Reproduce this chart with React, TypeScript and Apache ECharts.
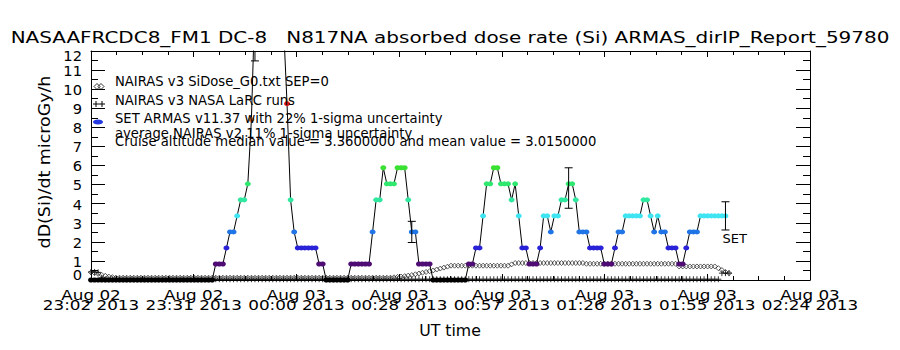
import React, { useEffect, useRef } from "react";
import * as echarts from "echarts";

// ---------- texts ----------
const TITLE = "NASAAFRCDC8_FM1 DC-8   N817NA absorbed dose rate (Si) ARMAS_dirIP_Report_59780";
const Y_TITLE = "dD(Si)/dt microGy/h";
const X_TITLE = "UT time";
const legendLabels = [
  "NAIRAS v3 SiDose_G0.txt SEP=0",
  "NAIRAS v3 NASA LaRC runs",
  "SET ARMAS v11.37 with 22% 1-sigma uncertainty",
];
const noteLines = [
  "average NAIRAS v2 11% 1-sigma uncertainty",
  "Cruise altitude median value = 3.3600000 and mean value = 3.0150000",
];

// ---------- axes ----------
// x axis: seconds since 2013-08-02 23:02:30 UT
const X_MAX = 12103;
const X_INTERVAL = 1729;
const xTickDates = ["Aug 02", "Aug 02", "Aug 03", "Aug 03", "Aug 03", "Aug 03", "Aug 03", "Aug 03"];
const xTickTimes = ["23:02 2013", "23:31 2013", "00:00 2013", "00:28 2013", "00:57 2013", "01:26 2013", "01:55 2013", "02:24 2013"];
const Y_MIN = 0;
const Y_MAX = 12;
const Y_INTERVAL = 1;
const yTickLabels = ["0", "1", "2", "3", "4", "5", "6", "7", "8", "9", "10", "11", "12"];

// ---------- data (one sample per minute from 23:02:30) ----------
const CADENCE_SEC = 60;
const setValues = [
  0, 0, 0, 0, 0, 0, 0, 0, 0, 0, 0, 0, 0, 0, 0, 0, 0, 0, 0, 0,
  0, 0, 0, 0, 0, 0, 0, 0, 0, 0, 0, 0, 0, 0, 0,
  0.84, 0.84, 0.84, 1.68, 2.52, 2.52, 3.36, 4.2, 4.2, 5.04, 8.4,
  14.7, 15.1, 15.5, 15.1, 14.7, 14.3, 14.3, 13.9, 13.4,
  9.24, 4.2, 2.52, 1.68, 1.68, 1.68, 1.68, 1.68, 1.68, 0.84, 0.84,
  0, 0, 0, 0, 0, 0, 0,
  0.84, 0.84, 0.84, 0.84, 0.84, 0.84,
  2.52, 4.2, 4.2, 5.88, 5.04, 5.04, 5.04, 5.88, 5.88, 5.88, 4.2, 2.52, 2.52, 0.84, 0.84, 0.84, 0.84,
  0, 0, 0, 0, 0, 0, 0, 0, 0, 0,
  0.84, 0.84, 1.68, 1.68, 3.36, 5.04, 5.04, 5.88, 5.88, 5.04, 5.04, 5.04, 4.2, 5.04, 3.36, 1.68, 1.68, 0.84, 0.84, 0.84, 1.68,
  3.36, 3.36, 2.52, 3.36, 3.36, 4.2, 4.2, 5.04, 5.04, 4.2, 2.52, 2.52, 2.52, 1.68, 1.68, 1.68, 1.68, 0.84, 0.84, 0.84, 1.68,
  2.52, 2.52, 3.36, 3.36, 3.36, 3.36, 3.36, 4.2, 4.2, 3.36, 2.52, 3.36, 2.52, 2.52, 1.68, 1.68, 1.68, 0.84, 0.84, 1.68, 2.52, 2.52, 2.52,
  3.36, 3.36, 3.36, 3.36, 3.36, 3.36, 3.36, 3.36,
];
const nairasG0 = [
  0.4, 0.36, 0.32, 0.27, 0.22, 0.18, 0.15,
  0.12, 0.12, 0.12, 0.12, 0.12, 0.12, 0.12, 0.12, 0.12, 0.12, 0.12, 0.12, 0.12, 0.12, 0.12, 0.12, 0.12, 0.12, 0.12, 0.12,
  0.12, 0.12, 0.12, 0.12, 0.12, 0.12, 0.12, 0.12, 0.12, 0.12, 0.12, 0.12, 0.12, 0.12, 0.12, 0.12, 0.12, 0.12, 0.12, 0.12,
  0.12, 0.12, 0.12, 0.12, 0.12, 0.12, 0.12, 0.12, 0.12, 0.12, 0.12, 0.12, 0.12, 0.12, 0.12, 0.12, 0.12, 0.12, 0.12, 0.12,
  0.12, 0.12, 0.12, 0.12, 0.12, 0.12, 0.12, 0.12, 0.12, 0.12, 0.12, 0.12, 0.12, 0.12, 0.12, 0.12, 0.12, 0.12,
  0.14, 0.16, 0.18, 0.2, 0.23, 0.26, 0.3, 0.34, 0.38, 0.42, 0.46, 0.5, 0.55, 0.6, 0.65, 0.7,
  0.75, 0.75, 0.75, 0.75, 0.75, 0.75, 0.75, 0.75, 0.75, 0.75, 0.75, 0.75, 0.75, 0.75, 0.75, 0.75, 0.75,
  0.82,
  0.89, 0.89, 0.89, 0.89, 0.89, 0.89, 0.89, 0.89, 0.89, 0.89, 0.89, 0.89, 0.89, 0.89, 0.89, 0.89, 0.89, 0.89, 0.89, 0.89,
  0.85, 0.85, 0.85, 0.85, 0.85, 0.85, 0.85, 0.85, 0.85, 0.85, 0.85, 0.85, 0.85, 0.85, 0.85, 0.85, 0.85, 0.85, 0.85, 0.85,
  0.85, 0.85, 0.85, 0.85, 0.85, 0.85,
  0.71, 0.71, 0.71, 0.71, 0.71, 0.71, 0.71, 0.71, 0.71, 0.71, 0.71,
  0.62, 0.52, 0.42, 0.36,
];
const nairasLarc = [
  0.42, 0.42, 0.4, 0.12,
  0.04, 0.04, 0.04, 0.04, 0.04, 0.04, 0.04, 0.04, 0.04, 0.04, 0.04, 0.04, 0.04, 0.04, 0.04, 0.04, 0.04, 0.04, 0.04, 0.04,
  0.04, 0.04, 0.04, 0.04, 0.04, 0.04, 0.04, 0.04, 0.04, 0.04, 0.04, 0.04, 0.04, 0.04, 0.04, 0.04, 0.04, 0.04, 0.04, 0.04,
  0.04, 0.04, 0.04, 0.04, 0.04, 0.04, 0.04, 0.04, 0.04, 0.04, 0.04, 0.04, 0.04, 0.04, 0.04, 0.04, 0.04, 0.04, 0.04, 0.04,
  0.04, 0.04, 0.04, 0.04, 0.04, 0.04, 0.04, 0.04, 0.04, 0.04, 0.04, 0.04, 0.04, 0.04, 0.04, 0.04, 0.04, 0.04, 0.04, 0.04,
  0.04, 0.04, 0.04, 0.04, 0.04, 0.04, 0.04, 0.04, 0.04, 0.04, 0.04, 0.04, 0.04, 0.04, 0.04, 0.04, 0.04, 0.04, 0.04, 0.04,
  0.04, 0.04, 0.04, 0.04, 0.04, 0.04, 0.04, 0.04, 0.04, 0.04, 0.04, 0.04, 0.04, 0.04, 0.04, 0.04, 0.04, 0.04, 0.04, 0.04,
  0.04, 0.04, 0.04, 0.04, 0.04, 0.04, 0.04, 0.04, 0.04, 0.04, 0.04, 0.04, 0.04, 0.04, 0.04, 0.04, 0.04, 0.04, 0.04, 0.04,
  0.04, 0.04, 0.04, 0.04, 0.04, 0.04, 0.04, 0.04, 0.04, 0.04, 0.04, 0.04, 0.04, 0.04, 0.04, 0.04, 0.04, 0.04, 0.04, 0.04,
  0.04, 0.04, 0.04, 0.04, 0.04, 0.04, 0.04, 0.04, 0.04, 0.04, 0.04, 0.04, 0.04,
  0.36, 0.36, 0.36,
];
// SET error bars (minute index, centre value), ±22 %
const errMinutes = [46, 90, 134, 178];
const errCenters = [14.72, 2.52, 4.82, 3.36];
const errLabels = ["", "", "", "SET"];
const ERR_FRAC = 0.22;

// colour table for SET dose levels (steps of 0.84)
const LEVEL_STEP = 0.84;
const levelColors = [
  "#000000", "#4e0c74", "#2a22d8", "#1f74e6", "#3fe4f2", "#30e8a0",
  "#30e870", "#3ae032", "#a8e030", "#f0e020", "#d07030", "#e01818",
];

const FONT = "DejaVu Sans";

export default function App() {
  const ref = useRef<HTMLDivElement>(null);
  useEffect(() => {
    document.body.style.margin = "0";
    const chart = echarts.init(ref.current as HTMLDivElement, null, { renderer: "svg" });

    const setData = setValues.map((v, i) => ({
      value: [i * CADENCE_SEC, v],
      itemStyle: { color: levelColors[Math.min(levelColors.length - 1, Math.round(v / LEVEL_STEP))] },
    }));
    const g0Data = nairasG0.map((v, i) => [i * CADENCE_SEC, v]);
    const larcData = nairasLarc.map((v, i) => [i * CADENCE_SEC, v]);
    const errData = errMinutes.map((m, i) => [m * CADENCE_SEC, errCenters[i] * (1 - ERR_FRAC), errCenters[i] * (1 + ERR_FRAC)]);

    const axisLine = { show: true, onZero: false, lineStyle: { color: "#000", width: 1 } };
    const xCommon = {
      type: "value" as const,
      min: 0,
      max: X_MAX,
      interval: X_INTERVAL,
      axisLine,
      axisTick: { show: true, inside: true, length: 6, lineStyle: { color: "#000" } },
      minorTick: { show: true, splitNumber: 4, length: 4, lineStyle: { color: "#000" } },
      splitLine: { show: false },
      axisLabel: { show: false },
    };
    const yCommon = {
      type: "value" as const,
      min: Y_MIN,
      max: Y_MAX,
      interval: Y_INTERVAL,
      axisLine,
      axisTick: { show: true, inside: true, length: 14, lineStyle: { color: "#000" } },
      minorTick: { show: true, splitNumber: 2, length: 7, lineStyle: { color: "#000" } },
      splitLine: { show: false },
      axisLabel: { show: false },
    };

    chart.setOption({
      animation: false,
      textStyle: { fontFamily: FONT },
      grid: { left: 91, right: 90, top: 51, bottom: 70, containLabel: false, outerBoundsMode: "none" },
      xAxis: [
        { ...xCommon, position: "bottom" },
        { ...xCommon, position: "top" },
      ],
      yAxis: [
        { ...yCommon, position: "left" },
        { ...yCommon, position: "right" },
      ],
      series: [
        {
          type: "scatter",
          name: legendLabels[0],
          data: g0Data,
          symbol: "diamond",
          symbolSize: [5, 5],
          itemStyle: { color: "rgba(0,0,0,0)", borderColor: "#000", borderWidth: 0.8 },
          emphasis: { disabled: true },
          z: 2,
        },
        {
          type: "scatter",
          name: legendLabels[1],
          data: larcData,
          symbol: "path://M0,4L8,4M4,0L4,8",
          symbolSize: [6, 6],
          itemStyle: { color: "none", borderColor: "#000", borderWidth: 1 },
          emphasis: { disabled: true },
          z: 2,
        },
        {
          type: "line",
          name: legendLabels[2],
          data: setData,
          symbol: "circle",
          symbolSize: [6, 5],
          showSymbol: true,
          showAllSymbol: true,
          lineStyle: { color: "#000", width: 1 },
          emphasis: { disabled: true },
          clip: true,
          z: 3,
        },
        {
          type: "custom",
          data: errData,
          clip: true,
          z: 4,
          renderItem: (params: any, api: any) => {
            const t = api.value(0);
            const lo = api.coord([t, api.value(1)]);
            const hi = api.coord([t, api.value(2)]);
            const s = { stroke: "#000", lineWidth: 1 };
            const children: any[] = [
              { type: "line", shape: { x1: lo[0], y1: lo[1], x2: hi[0], y2: hi[1] }, style: s },
              { type: "line", shape: { x1: lo[0] - 4, y1: lo[1], x2: lo[0] + 4, y2: lo[1] }, style: s },
              { type: "line", shape: { x1: hi[0] - 4, y1: hi[1], x2: hi[0] + 4, y2: hi[1] }, style: s },
            ];
            const label = errLabels[params.dataIndex];
            if (label) {
              children.push({
                type: "text", x: lo[0] - 3, y: lo[1] + 2,
                style: { text: label, fill: "#000", fontSize: 13, fontFamily: FONT, align: "left", verticalAlign: "top" },
              });
            }
            return { type: "group", children };
          },
        },
      ],
    });

    const txt = (text: string, x: number, y: number, size: number, opts: any = {}) => ({
      type: "text",
      x, y,
      scaleX: opts.scaleX ?? 1,
      rotation: opts.rotation ?? 0,
      z: 10,
      style: {
        text, fill: "#000", fontSize: size, fontFamily: FONT,
        align: opts.align ?? "left", verticalAlign: "middle",
      },
    });
    const lineStyle = { stroke: "#000", lineWidth: 1 };
    const diamond = (cx: number, cy: number) => ({
      type: "polygon", z: 10,
      shape: { points: [[cx, cy - 3], [cx + 3, cy], [cx, cy + 3], [cx - 3, cy]] },
      style: { fill: "none", stroke: "#000", lineWidth: 0.8 },
    });
    const plus = (cx: number, cy: number) => [
      { type: "line", z: 10, shape: { x1: cx - 3, y1: cy, x2: cx + 3, y2: cy }, style: lineStyle },
      { type: "line", z: 10, shape: { x1: cx, y1: cy - 3, x2: cx, y2: cy + 3 }, style: lineStyle },
    ];

    const elements: any[] = [
      txt(TITLE, 450, 37, 16.5, { align: "center", scaleX: 1.21 }),
      txt(Y_TITLE, 44, 162, 16, { align: "center", rotation: Math.PI / 2, scaleX: 1.09 }),
      txt(X_TITLE, 450, 331, 15, { align: "center", scaleX: 1.05 }),
      diamond(97, 86.5), diamond(101, 86.5),
      ...plus(96, 104), ...plus(102, 104),
      { type: "ellipse", z: 10, shape: { cx: 98, cy: 122, rx: 5, ry: 2.5 }, style: { fill: "#2438e0" } },
      txt(legendLabels[0], 115, 81, 14, { scaleX: 0.94 }),
      txt(legendLabels[1], 115, 100, 14, { scaleX: 0.94 }),
      txt(legendLabels[2], 115, 118, 14, { scaleX: 0.94 }),
      txt(noteLines[0], 115, 133, 14, { scaleX: 0.94 }),
      txt(noteLines[1], 115, 141, 14, { scaleX: 0.94 }),
    ];
    // y tick labels, placed through the y axis scale (end labels nudged inward as in the original)
    yTickLabels.forEach((lab, k) => {
      const v = Y_MIN + k * Y_INTERVAL;
      const py = chart.convertToPixel({ yAxisIndex: 0 }, v) as unknown as number;
      const nudge = k === 0 ? -5 : k === yTickLabels.length - 1 ? 5 : 1;
      elements.push(txt(lab, 82, py + nudge, 14, { align: "right", scaleX: 1.05 }));
    });
    xTickTimes.forEach((tt, k) => {
      const px = chart.convertToPixel({ xAxisIndex: 0 }, k * X_INTERVAL) as unknown as number;
      elements.push(txt(xTickDates[k], px, 295, 14, { align: "center", scaleX: 1.2 }));
      elements.push(txt(tt, px, 305, 14, { align: "center", scaleX: 1.2 }));
    });
    chart.setOption({ graphic: { elements } });

    return () => chart.dispose();
  }, []);
  return <div ref={ref} style={{ width: 900, height: 350, background: "#fff" }} />;
}
